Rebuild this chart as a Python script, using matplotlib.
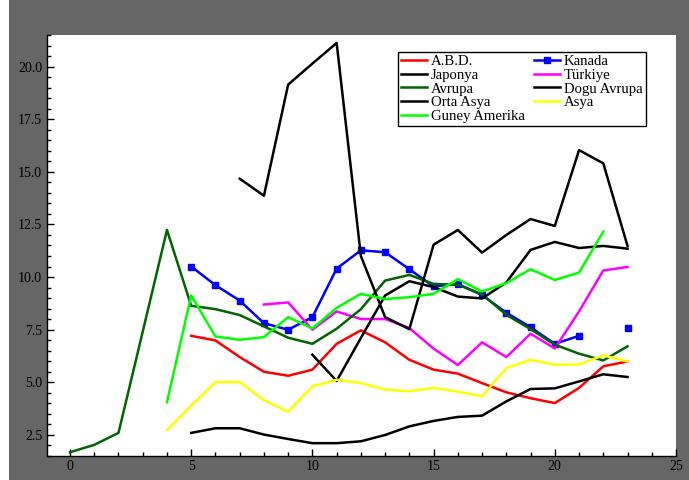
import numpy as np
import matplotlib
matplotlib.use("Agg")
import matplotlib.pyplot as plt
from matplotlib.patches import Rectangle
from matplotlib.ticker import MultipleLocator, FormatStrFormatter

nan = np.nan
x = np.arange(24)

abd = [nan, nan, nan, nan, nan, 7.20, 6.98, 6.19, 5.49, 5.30, 5.59, 6.82, 7.46, 6.89,
       6.06, 5.59, 5.40, 4.95, 4.51, 4.23, 4.00, 4.72, 5.75, 5.98]
kanada = [nan, nan, nan, nan, nan, 10.50, 9.61, 8.88, 7.80, 7.49, 8.09, 10.40, 11.27, 11.18,
          10.37, 9.55, 9.67, 9.14, 8.30, 7.61, 6.82, 7.20, nan, 7.55]
japonya = [nan, nan, nan, nan, nan, 2.58, 2.80, 2.80, 2.50, 2.29, 2.09, 2.09, 2.18, 2.48,
           2.89, 3.15, 3.34, 3.40, 4.08, 4.67, 4.70, 5.03, 5.37, 5.24]
turkiye = [nan, nan, nan, nan, nan, nan, nan, nan, 8.69, 8.79, 7.49, 8.36, 8.00, 8.00,
           7.57, 6.59, 5.81, 6.89, 6.19, 7.30, 6.60, 8.36, 10.31, 10.48]
avrupa = [1.66, 2.01, 2.58, 7.40, 12.24, 8.63, 8.47, 8.19, 7.65, 7.11, 6.82, 7.54, 8.47, 9.83,
          10.10, 9.67, 9.63, 9.18, 8.20, 7.52, 6.78, 6.35, 6.03, 6.70]
dogu_avrupa = [nan, nan, nan, nan, nan, nan, nan, 14.68, 13.87, 19.16, 20.16, 21.14, 11.00, 8.09,
               7.52, 11.54, 12.24, 11.16, 12.00, 12.76, 12.43, 16.04, 15.41, 11.48]
orta_asya = [nan, nan, nan, nan, nan, nan, nan, nan, nan, nan, 6.30, 5.05, 7.10, 9.12,
             9.80, 9.52, 9.07, 8.98, 9.74, 11.29, 11.67, 11.38, 11.48, 11.35]
asya = [nan, nan, nan, nan, 2.71, 3.88, 5.00, 5.00, 4.13, 3.59, 4.80, 5.11, 4.95, 4.64,
        4.56, 4.72, 4.54, 4.32, 5.67, 6.06, 5.82, 5.84, 6.27, 5.98]
guney_amerika = [nan, nan, nan, nan, 4.04, 9.12, 7.17, 7.01, 7.14, 8.09, 7.55, 8.53, 9.20, 8.95,
                 9.04, 9.20, 9.90, 9.31, 9.71, 10.37, 9.86, 10.21, 12.16, nan]

plt.rcParams['font.family'] = ['Liberation Serif', 'DejaVu Serif']

fig = plt.figure(figsize=(6.89, 4.80), dpi=100, facecolor='white')
fig.patches.append(Rectangle((9 / 689, 0), 1, 1, transform=fig.transFigure,
                             facecolor='#666666', edgecolor='none', zorder=-10))
ax = fig.add_axes([46.5 / 689, 1 - 456 / 480, 629.5 / 689, 421 / 480])
ax.set_facecolor('white')

lw = 1.8
lines = {}
lines['A.B.D.'], = ax.plot(x, abd, color='#ff0000', lw=lw)
lines['Kanada'], = ax.plot(x, kanada, color='#0000ff', lw=lw, marker='s', markersize=4)
lines['Japonya'], = ax.plot(x, japonya, color='black', lw=lw)
lines['Türkiye'], = ax.plot(x, turkiye, color='#ff00ff', lw=lw)
lines['Avrupa'], = ax.plot(x, avrupa, color='#006400', lw=lw)
lines['Dogu Avrupa'], = ax.plot(x, dogu_avrupa, color='black', lw=lw)
lines['Orta Asya'], = ax.plot(x, orta_asya, color='black', lw=lw)
lines['Asya'], = ax.plot(x, asya, color='#ffff00', lw=lw)
lines['Guney Amerika'], = ax.plot(x, guney_amerika, color='#00ff00', lw=lw)

ax.set_xlim(-0.97, 25)
ax.set_ylim(1.48, 21.52)
ax.xaxis.set_major_locator(MultipleLocator(5))
ax.xaxis.set_minor_locator(MultipleLocator(1))
ax.yaxis.set_major_locator(MultipleLocator(2.5))
ax.yaxis.set_minor_locator(MultipleLocator(0.5))
ax.yaxis.set_major_formatter(FormatStrFormatter('%.1f'))
ax.tick_params(which='both', direction='in', labelsize=10, pad=3, colors='black')
ax.tick_params(which='major', length=5, width=1)
ax.tick_params(which='minor', length=3, width=1)
for side in ['top', 'right']:
    ax.spines[side].set_visible(False)
for side in ['left', 'bottom']:
    ax.spines[side].set_linewidth(1.0)

order = ['A.B.D.', 'Japonya', 'Avrupa', 'Orta Asya', 'Guney Amerika',
         'Kanada', 'Türkiye', 'Dogu Avrupa', 'Asya']
leg = ax.legend([lines[k] for k in order], order, ncol=2, loc='upper left',
                bbox_to_anchor=(0.558, 0.96), borderaxespad=0, fontsize=10.6,
                handlelength=1.75, handletextpad=0.3, columnspacing=0.6,
                labelspacing=0.02, borderpad=0.22, fancybox=False, framealpha=1)
leg.get_frame().set_edgecolor('black')
leg.get_frame().set_linewidth(1.0)

fig.savefig('out.png', dpi=100, facecolor=fig.get_facecolor())
